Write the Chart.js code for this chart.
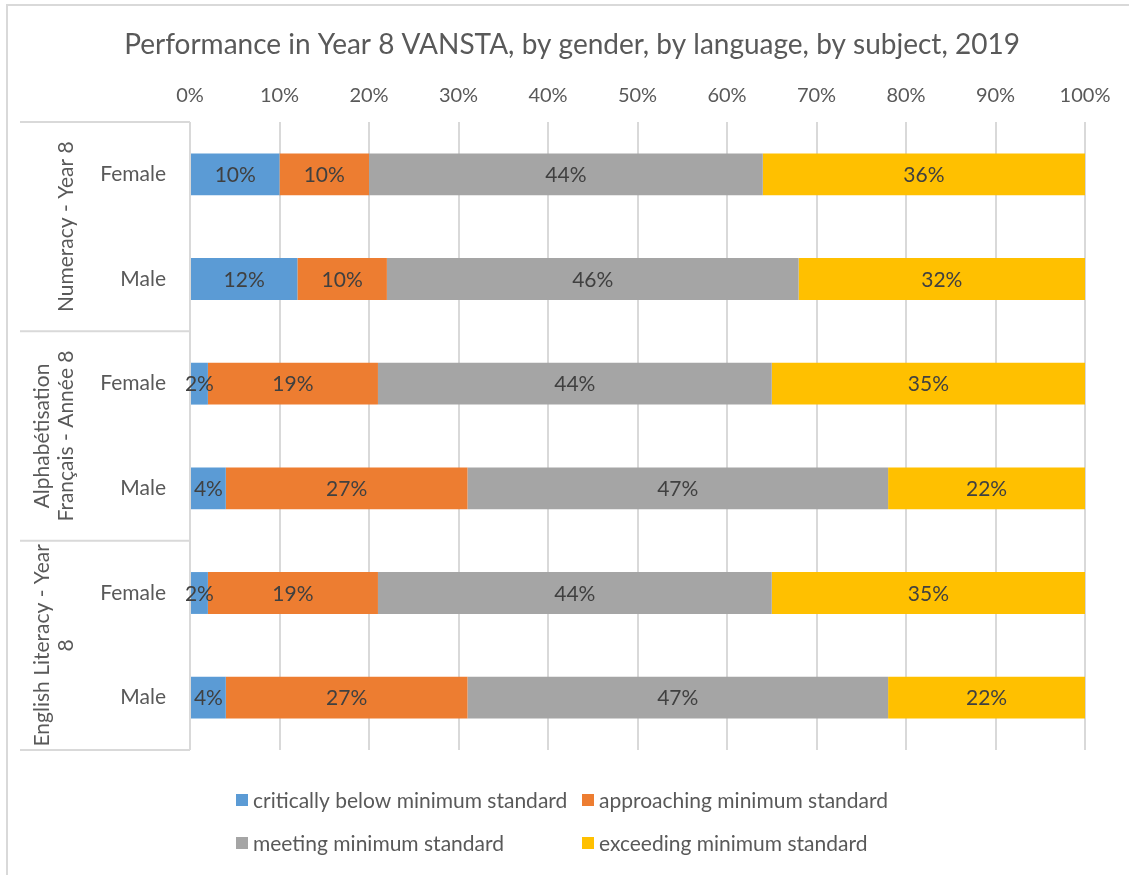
<!DOCTYPE html>
<html>
<head>
<meta charset="utf-8">
<title>Performance in Year 8 VANSTA</title>
<script src="https://cdn.jsdelivr.net/npm/chart.js@4"></script>
<style>
  html, body { margin: 0; padding: 0; background: #fff; }
  #wrap { width: 1129px; height: 875px; position: relative; }
</style>
</head>
<body>
<div id="wrap"><canvas id="chart" width="1129" height="875"></canvas></div>
<script>
// categories (bars, top to bottom) and the subject groups they belong to
const categories = ['Female', 'Male', 'Female', 'Male', 'Female', 'Male'];
const groups = [
  ['Numeracy - Year 8'],
  ['Alphabétisation', 'Français - Année 8'],
  ['English Literacy - Year', '8']
];

// series values, percent of students
const critical = [10, 12, 2, 4, 2, 4];
const approaching = [10, 10, 19, 27, 19, 27];
const meeting = [44, 46, 44, 47, 44, 47];
const exceeding = [36, 32, 35, 22, 35, 22];

const seriesNames = [
  'critically below minimum standard',
  'approaching minimum standard',
  'meeting minimum standard',
  'exceeding minimum standard'
];
const colors = ['#5B9BD5', '#ED7D31', '#A5A5A5', '#FFC000'];
const chartTitle = 'Performance in Year 8 VANSTA, by gender, by language, by subject, 2019';

const FONT = 'Lato';
const TEXT = '#595959';
const GRID = '#D9D9D9';

// value labels centred in each bar segment
const barLabels = {
  id: 'barLabels',
  afterDatasetsDraw(chart) {
    const ctx = chart.ctx;
    ctx.save();
    ctx.font = '21px ' + FONT;
    ctx.fillStyle = '#404040';
    ctx.textAlign = 'center';
    ctx.textBaseline = 'middle';
    chart.data.datasets.forEach((ds, i) => {
      chart.getDatasetMeta(i).data.forEach((bar, j) => {
        const p = bar.getProps(['x', 'y', 'base'], true);
        ctx.fillText(ds.data[j] + '%', (p.x + p.base) / 2, p.y + 1);
      });
    });
    ctx.restore();
  }
};

// title, subject group labels, divider lines, outer frame and legend
const decorations = {
  id: 'decorations',
  afterDraw(chart) {
    const ctx = chart.ctx;
    const area = chart.chartArea;
    const y = chart.scales.y;
    const boxLeft = 20;
    ctx.save();

    // frame of the chart (left and top edges visible)
    ctx.strokeStyle = GRID;
    ctx.lineWidth = 2;
    ctx.beginPath();
    ctx.moveTo(7, chart.height);
    ctx.lineTo(7, 5);
    ctx.lineTo(chart.width, 5);
    ctx.stroke();

    // title, centred on the whole frame
    ctx.font = '28px ' + FONT;
    ctx.fillStyle = TEXT;
    ctx.textAlign = 'center';
    ctx.textBaseline = 'middle';
    ctx.fillText(chartTitle, (7 + chart.width + 8) / 2, 45);

    // group dividers
    const bounds = [area.top];
    for (let g = 1; g < groups.length; g++) {
      bounds.push((y.getPixelForValue(g * 2 - 1) + y.getPixelForValue(g * 2)) / 2);
    }
    bounds.push(area.bottom);
    ctx.beginPath();
    bounds.forEach(b => {
      ctx.moveTo(boxLeft, b);
      ctx.lineTo(area.left, b);
    });
    ctx.stroke();

    // rotated group labels, last line nearest the bars
    ctx.font = '21px ' + FONT;
    groups.forEach((lines, g) => {
      const cy = (bounds[g] + bounds[g + 1]) / 2;
      const lh = 24;
      const lastX = 66;
      lines.forEach((line, k) => {
        const lx = lastX - (lines.length - 1 - k) * lh;
        ctx.save();
        ctx.translate(lx, cy);
        ctx.rotate(-Math.PI / 2);
        ctx.fillText(line, 0, 0);
        ctx.restore();
      });
    });

    // legend, two columns
    ctx.textAlign = 'left';
    const cols = [area.left + 46, area.left + 392];
    const rows = [area.bottom + 50, area.bottom + 93];
    chart.data.datasets.forEach((ds, i) => {
      const lx = cols[i % 2];
      const ly = rows[Math.floor(i / 2)];
      ctx.fillStyle = ds.backgroundColor;
      ctx.fillRect(lx, ly - 6, 12, 12);
      ctx.fillStyle = TEXT;
      ctx.fillText(ds.label, lx + 17, ly + 1);
    });

    ctx.restore();
  }
};

const seriesData = [critical, approaching, meeting, exceeding];

new Chart(document.getElementById('chart'), {
  type: 'bar',
  data: {
    labels: categories,
    datasets: seriesData.map((d, i) => ({
      label: seriesNames[i],
      data: d,
      backgroundColor: colors[i],
      borderWidth: 0,
      barPercentage: 0.4,
      categoryPercentage: 1
    }))
  },
  options: {
    indexAxis: 'y',
    responsive: false,
    animation: false,
    layout: { padding: { left: 20, right: 44, top: 67, bottom: 125 } },
    scales: {
      x: {
        position: 'top',
        stacked: true,
        min: 0,
        max: 100,
        ticks: {
          stepSize: 10,
          padding: 14,
          color: TEXT,
          font: { family: FONT, size: 20 },
          callback: v => v + '%'
        },
        grid: { color: GRID, lineWidth: 2, drawTicks: false },
        border: { display: false },
        afterFit(scale) { scale.height = 55; }
      },
      y: {
        stacked: true,
        ticks: {
          padding: 16,
          color: TEXT,
          font: { family: FONT, size: 21 }
        },
        grid: { display: false },
        border: { display: false },
        afterFit(scale) { scale.width = 170; }
      }
    },
    plugins: {
      legend: { display: false },
      tooltip: { enabled: false },
      title: { display: false }
    }
  },
  plugins: [barLabels, decorations]
});
</script>
</body>
</html>
